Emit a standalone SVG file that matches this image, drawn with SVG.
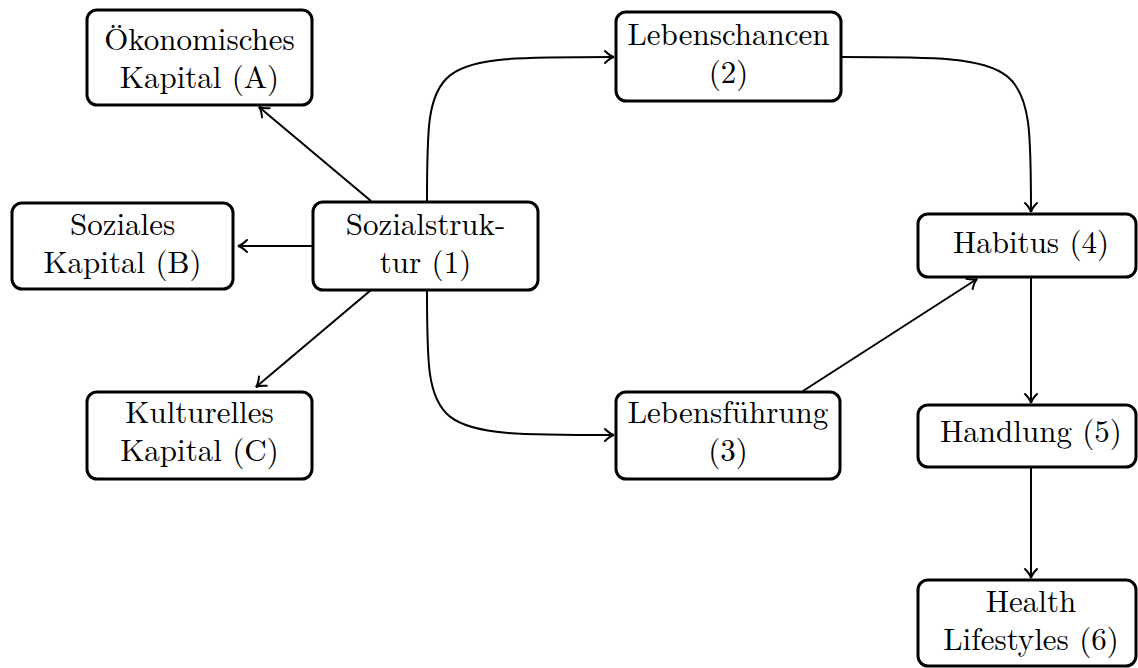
<svg xmlns="http://www.w3.org/2000/svg" width="1138" height="668" viewBox="0 0 1138 668">
<defs>
<style>
.box{fill:#fff;stroke:#000;stroke-width:3}
.t{font-size:31px;fill:#000;text-anchor:middle}
.c{fill:none;stroke:#000;stroke-width:2}
</style>
<marker id="arr" markerUnits="userSpaceOnUse" markerWidth="20" markerHeight="20" viewBox="-12 -10 14 20" refX="0" refY="0" orient="auto">
<path d="M-9,-6 Q-4,-1 0,0 Q-4,1 -9,6" fill="none" stroke="#000" stroke-width="2" stroke-linecap="round"/>
</marker>
</defs>
<rect width="1138" height="668" fill="#fff"/>
<g id="connectors">
<path class="c" d="M371,201 L259,107" marker-end="url(#arr)"/>
<path class="c" d="M313,246 L238,246" marker-end="url(#arr)"/>
<path class="c" d="M371,290 L256,387" marker-end="url(#arr)"/>
<path class="c" d="M427,202 C427,57 427,57 614,57" marker-end="url(#arr)"/>
<path class="c" d="M427,290 C427,435 427,435 614,435" marker-end="url(#arr)"/>
<path class="c" d="M841,57 C1031,57 1031,57 1031,212" marker-end="url(#arr)"/>
<path class="c" d="M803,391 L977,279" marker-end="url(#arr)"/>
<path class="c" d="M1031,277 L1031,403" marker-end="url(#arr)"/>
<path class="c" d="M1031,467 L1031,578" marker-end="url(#arr)"/>
</g>
<g id="nodes" font-family="Latin Modern Roman, Liberation Serif, serif">
<g id="nodeA">
<rect class="box" x="87" y="10" width="225" height="95" rx="10"/>
<text class="t" x="199.5" y="50">Ökonomisches</text>
<text class="t" x="199.5" y="88">Kapital (A)</text>
</g>
<g id="nodeB">
<rect class="box" x="12" y="203" width="221" height="86" rx="10"/>
<text class="t" x="122.5" y="235">Soziales</text>
<text class="t" x="122.5" y="273">Kapital (B)</text>
</g>
<g id="node1">
<rect class="box" x="313" y="202" width="225" height="88" rx="10"/>
<text class="t" x="425.5" y="235">Sozialstruk-</text>
<text class="t" x="425.5" y="273">tur (1)</text>
</g>
<g id="nodeC">
<rect class="box" x="87" y="392" width="225" height="87" rx="10"/>
<text class="t" x="199.5" y="423">Kulturelles</text>
<text class="t" x="199.5" y="461">Kapital (C)</text>
</g>
<g id="node2">
<rect class="box" x="616" y="12" width="225" height="89" rx="10"/>
<text class="t" x="728.5" y="45">Lebenschancen</text>
<text class="t" x="728.5" y="83">(2)</text>
</g>
<g id="node3">
<rect class="box" x="616" y="392" width="224" height="87" rx="10"/>
<text class="t" x="728" y="423">Lebensführung</text>
<text class="t" x="728" y="461">(3)</text>
</g>
<g id="node4">
<rect class="box" x="918" y="214" width="218" height="63" rx="10"/>
<text class="t" x="1031" y="253">Habitus (4)</text>
</g>
<g id="node5">
<rect class="box" x="918" y="405" width="218" height="62" rx="10"/>
<text class="t" x="1031" y="442">Handlung (5)</text>
</g>
<g id="node6">
<rect class="box" x="918" y="580" width="218" height="86" rx="10"/>
<text class="t" x="1031" y="612">Health</text>
<text class="t" x="1031" y="650">Lifestyles (6)</text>
</g>
</g>
</svg>
